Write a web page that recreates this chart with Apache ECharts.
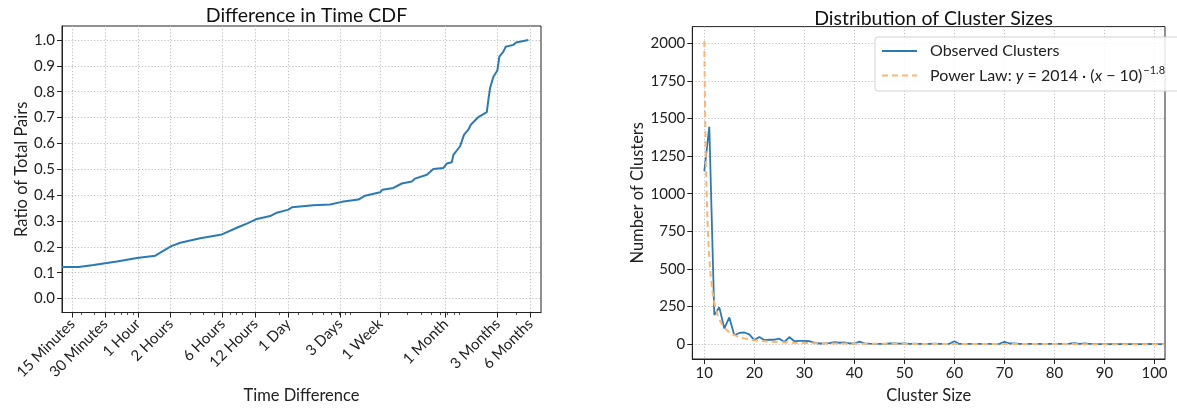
<!DOCTYPE html>
<html>
<head>
<meta charset="utf-8">
<script src="https://cdn.jsdelivr.net/npm/echarts@6/dist/echarts.min.js"></script>
<style>
html,body{margin:0;padding:0;background:#fff;}
#chart{width:1177px;height:409px;}
</style>
</head>
<body>
<div id="chart"></div>
<script>
// ---------- Left chart: Difference in Time CDF ----------
// time difference in hours (log-scaled axis), CDF ratio
const cdfHours = [0.2005,0.2847,0.391,0.641,0.979,1.442,2.022,2.446,3.734,5.906,8.11,10.37,12.38,16.40,18.90,24.15,25.95,40.98,58.33,74.7,106.1,122.3,167.9,176.2,222.4,265.6,328.2,351.9,450.7,518.1,640.1,687.9,764.4,790.8,911.0,991.6,1086,1143,1342,1603,1658,1719,1843,2005,2092,2276,2394,2812,2977,3863];
const cdfRatio = [0.122,0.122,0.130,0.143,0.157,0.166,0.203,0.216,0.233,0.248,0.274,0.293,0.308,0.319,0.332,0.344,0.353,0.361,0.364,0.374,0.383,0.398,0.411,0.421,0.428,0.445,0.453,0.464,0.479,0.501,0.505,0.522,0.527,0.556,0.589,0.634,0.653,0.672,0.702,0.721,0.769,0.814,0.858,0.882,0.936,0.955,0.974,0.981,0.990,1.000];
const majorTickHours = [0.25,0.5,1,2,6,12,24,72,168,672,2016,4032];
const majorTickLabels = ['15 Minutes','30 Minutes','1 Hour','2 Hours','6 Hours','12 Hours','1 Day','3 Days','1 Week','1 Month','3 Months','6 Months'];
const minorTickHours = [0.3,0.4,0.6,0.7,0.8,0.9,3,4,5,7,8,9,20,30,40,50,60,70,80,90,200,300,400,500,600,700,800,900,2000,3000,4000];
const cdfYTicks = [0,0.1,0.2,0.3,0.4,0.5,0.6,0.7,0.8,0.9,1.0];

// ---------- Right chart: Distribution of Cluster Sizes ----------
const clusterSizes = [10,11,12,13,14,15,16,17,18,19,20,21,22,23,24,25,26,27,28,29,30,31,32,33,34,35,36,37,38,39,40,41,42,43,44,45,46,47,48,49,50,51,52,53,54,55,56,57,58,59,60,61,62,63,64,65,66,67,68,69,70,71,72,73,74,75,76,77,78,79,80,81,82,83,84,85,86,87,88,89,90,91,92,93,94,95,96,97,98,99,100,101,102];
const clusterCounts = [1150,1445,195,245,105,178,60,75,78,65,28,48,28,30,30,37,15,48,20,22,22,20,10,5,6,8,14,10,12,6,5,18,6,4,3,2,3,5,6,4,5,3,4,2,3,2,4,3,2,3,20,2,3,2,2,3,2,2,1,3,16,5,6,3,2,3,2,2,1,2,3,2,2,4,8,3,6,2,3,1,2,1,2,1,2,1,2,1,1,2,1,1,1];
const powerLawX = [10,10.25,10.5,10.75,11,11.5,12,12.5,13,14,15,16,18,20,25,30,40,50,70,102];
const powerLawY = [2014,1348,971,735,578,387,279,211,166,111,80,61,39,27,14,8,4,2.5,1.2,0.6];
const clusterXTicks = [10,20,30,40,50,60,70,80,90,100];
const clusterYTicks = [0,250,500,750,1000,1250,1500,1750,2000];

const FONT = 'Lato';
const TXT = '#222';
const SPINE = '#222';
const GRIDC = '#b8b8b8';
const TICKFS = 15;
const NAMEFS = 16.5;

const log10 = v => Math.log10(v);

const chart = echarts.init(document.getElementById('chart'), null, {renderer: 'canvas'});

const cdfData = cdfHours.map((h, i) => [log10(h), cdfRatio[i]]);
const obsData = clusterSizes.map((x, i) => [x, clusterCounts[i]]);
const plData = powerLawX.map((x, i) => [x, powerLawY[i]]);

const splitStyle = {show: true, lineStyle: {color: GRIDC, type: [1.2, 2], width: 0.9}};

const option = {
  animation: false,
  textStyle: {fontFamily: FONT},
  title: [
    {text: 'Difference in Time CDF', left: 301.5, top: 1, textAlign: 'center',
     textStyle: {fontFamily: FONT, fontSize: 19.5, fontWeight: 'normal', color: '#111'}},
    {text: 'Distribution of Cluster Sizes', left: 928.5, top: 3.5, textAlign: 'center',
     textStyle: {fontFamily: FONT, fontSize: 19.5, fontWeight: 'normal', color: '#111'}}
  ],
  legend: {
    left: 875, top: 37, orient: 'vertical',
    padding: [6, 19, 5, 6],
    itemGap: 6,
    itemWidth: 35, itemHeight: 14,
    backgroundColor: 'rgba(255,255,255,0.85)',
    borderColor: '#d3d3d3', borderWidth: 1, borderRadius: 3,
    itemStyle: {opacity: 0, borderWidth: 0},
    data: ['Observed Clusters', 'Power Law'],
    formatter: function (name) {
      if (name === 'Observed Clusters') return '{t|Observed Clusters}';
      return '{t|Power Law: }{i|y}{n| = 2014 · (}{i|x}{n| − 10)}{s|−1.8}';
    },
    textStyle: {
      fontFamily: FONT, fontSize: 16, color: TXT,
      rich: {
        t: {fontFamily: FONT, fontSize: 16, color: TXT, padding: [0, 0, 0, 8], lineHeight: 23},
        i: {fontFamily: FONT, fontSize: 16, color: TXT, fontStyle: 'italic', lineHeight: 23},
        n: {fontFamily: FONT, fontSize: 16, color: TXT, lineHeight: 23},
        s: {fontFamily: FONT, fontSize: 11, color: TXT, padding: [0, 0, 10, 1], lineHeight: 23}
      }
    }
  },
  grid: [
    {left: 62, top: 26, width: 479, height: 287.3, show: true, borderColor: SPINE, borderWidth: 1, containLabel: false},
    {left: 692.3, top: 26.6, width: 472.7, height: 335.6, show: true, borderColor: SPINE, borderWidth: 1, containLabel: false}
  ],
  xAxis: [
    {
      type: 'value', gridIndex: 0, min: -0.698, max: 3.703,
      name: 'Time Difference', nameLocation: 'middle', nameGap: 74,
      nameTextStyle: {fontFamily: FONT, fontSize: NAMEFS, color: TXT},
      axisLine: {show: true, onZero: false, lineStyle: {color: SPINE, width: 1}},
      axisTick: {show: true, length: 5, inside: false, lineStyle: {color: SPINE, width: 1},
                 customValues: majorTickHours.map(log10)},
      axisLabel: {show: true, rotate: 45, margin: 9, fontFamily: FONT, fontSize: TICKFS, color: TXT,
                  customValues: majorTickHours.map(log10),
                  formatter: function (v) {
                    let best = 0, bd = 1e9;
                    majorTickHours.forEach((h, i) => { const d = Math.abs(log10(h) - v); if (d < bd) { bd = d; best = i; } });
                    return majorTickLabels[best];
                  }},
      splitLine: splitStyle
    },
    {
      type: 'value', gridIndex: 0, min: -0.698, max: 3.703, position: 'bottom',
      axisLine: {show: false, onZero: false},
      axisTick: {show: true, length: 2.5, inside: false, lineStyle: {color: SPINE, width: 0.8},
                 customValues: minorTickHours.map(log10)},
      axisLabel: {show: false, customValues: minorTickHours.map(log10)},
      splitLine: {show: false}
    },
    {
      type: 'value', gridIndex: 1, min: 7.6, max: 102.1,
      name: 'Cluster Size', nameLocation: 'middle', nameGap: 28,
      nameTextStyle: {fontFamily: FONT, fontSize: NAMEFS, color: TXT},
      axisLine: {show: true, onZero: false, lineStyle: {color: SPINE, width: 1}},
      axisTick: {show: true, length: 5, inside: false, lineStyle: {color: SPINE, width: 1},
                 customValues: clusterXTicks},
      axisLabel: {show: true, margin: 7, fontFamily: FONT, fontSize: TICKFS, color: TXT,
                  customValues: clusterXTicks},
      splitLine: splitStyle
    }
  ],
  yAxis: [
    {
      type: 'value', gridIndex: 0, min: -0.054, max: 1.054,
      name: 'Ratio of Total Pairs', nameLocation: 'middle', nameGap: 31,
      nameTextStyle: {fontFamily: FONT, fontSize: NAMEFS, color: TXT},
      axisLine: {show: true, onZero: false, lineStyle: {color: SPINE, width: 1}},
      axisTick: {show: true, length: 5, inside: false, lineStyle: {color: SPINE, width: 1},
                 customValues: cdfYTicks},
      axisLabel: {show: true, margin: 7, fontFamily: FONT, fontSize: TICKFS, color: TXT,
                  customValues: cdfYTicks, formatter: v => v.toFixed(1)},
      splitLine: splitStyle
    },
    {
      type: 'value', gridIndex: 1, min: -98, max: 2110,
      name: 'Number of Clusters', nameLocation: 'middle', nameGap: 46,
      nameTextStyle: {fontFamily: FONT, fontSize: NAMEFS, color: TXT},
      axisLine: {show: true, onZero: false, lineStyle: {color: SPINE, width: 1}},
      axisTick: {show: true, length: 5, inside: false, lineStyle: {color: SPINE, width: 1},
                 customValues: clusterYTicks},
      axisLabel: {show: true, margin: 7, fontFamily: FONT, fontSize: TICKFS, color: TXT,
                  customValues: clusterYTicks, formatter: v => String(Math.round(v))},
      splitLine: splitStyle
    }
  ],
  series: [
    {
      name: 'CDF', type: 'line', xAxisIndex: 0, yAxisIndex: 0,
      data: cdfData, symbol: 'none', smooth: false,
      lineStyle: {color: '#2a7ab9', width: 2}
    },
    {
      name: 'Observed Clusters', type: 'line', xAxisIndex: 2, yAxisIndex: 1,
      data: obsData, symbol: 'none', smooth: false,
      itemStyle: {color: '#2a7ab9'},
      lineStyle: {color: '#2a7ab9', width: 1.8}
    },
    {
      name: 'Power Law', type: 'line', xAxisIndex: 2, yAxisIndex: 1,
      data: plData, symbol: 'none', smooth: true,
      itemStyle: {color: '#ffb56e'},
      lineStyle: {color: '#ffb56e', width: 2, type: [6, 4]}
    }
  ]
};
chart.setOption(option);
</script>
</body>
</html>
